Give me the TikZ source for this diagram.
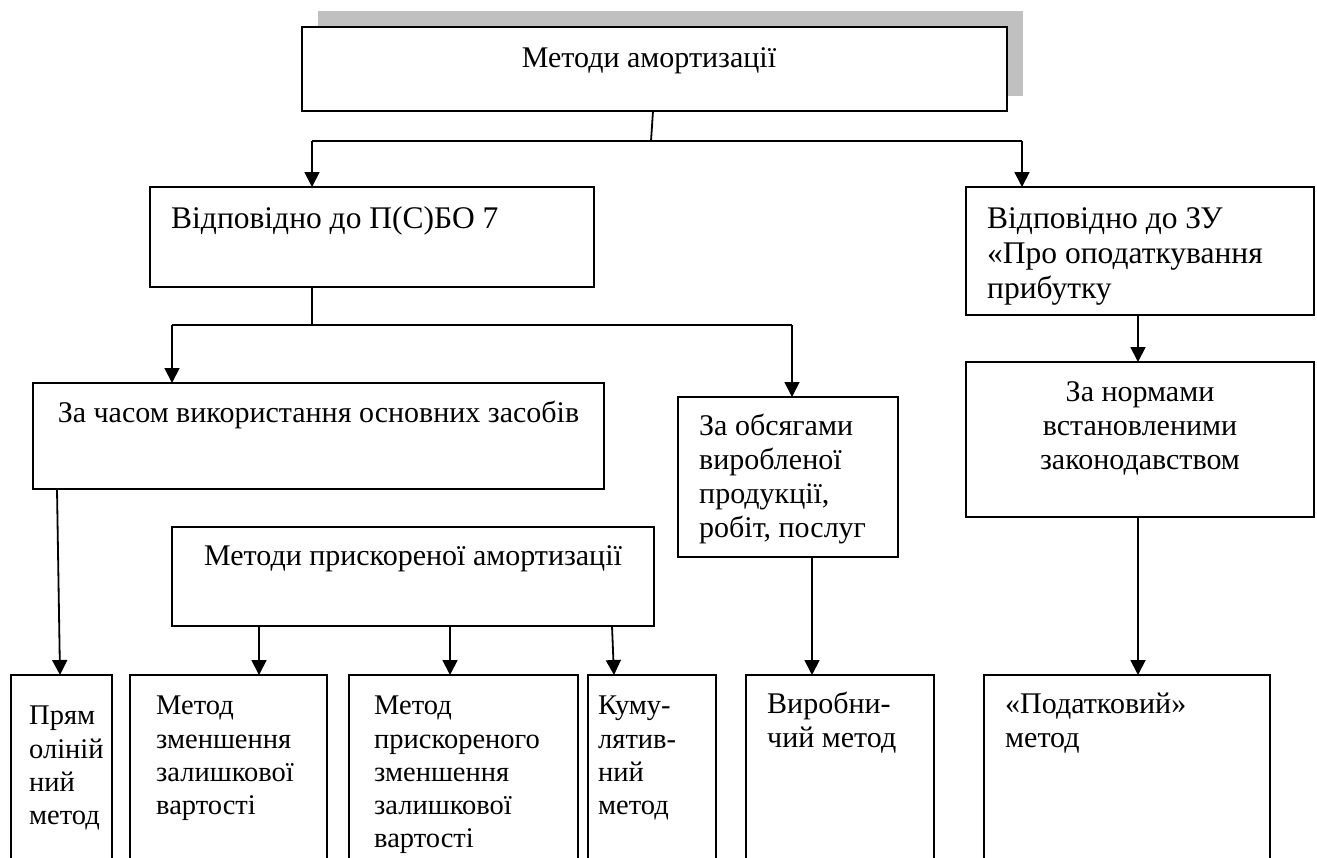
\documentclass[tikz,border=0pt]{standalone}
\usepackage{fontspec}
\setmainfont{Liberation Serif}
\usetikzlibrary{arrows.meta}
\definecolor{shadowgray}{HTML}{C0C0C0}
\newcommand\mybox[5]{\node[box,minimum width={(#4-#2)*1pt},minimum height={(#5-#3)*1pt}] (#1) at (#2,#3) {};}
\newcommand\tlft[5][]{\node[txt,anchor=north west,align=left,#1] (#2) at (#3,#4-23.8) {\strut #5};}
\newcommand\tctr[5][]{\node[txt,anchor=north,align=center,#1] (#2) at (#3,#4-23.8) {\strut #5};}
\begin{document}
\begin{tikzpicture}[x=1pt,y=-1pt,
  box/.style={draw,line width=1.5pt,inner sep=0pt,outer sep=0pt,anchor=north west,fill=white},
  conn/.style={line width=1.8pt},
  arr/.style={conn,-{Triangle[length=15pt,width=15pt]}},
  txt/.style={inner sep=0pt,font=\fontsize{30}{34}\selectfont},
  big/.style={font=\fontsize{31.5}{35}\selectfont},
  small/.style={font=\fontsize{28.5}{33.3}\selectfont}]
\useasboundingbox (0,0) rectangle (1317,857);
\clip (0,0) rectangle (1317,857);
% shadow of the title box
\fill[shadowgray] (318,11) rectangle (1023,96);
% boxes
\mybox{top}{302}{27}{1007}{111}
\mybox{pcbo}{150}{187}{594}{287}
\mybox{zu}{966}{187}{1314}{315}
\mybox{chas}{33}{383}{604}{489}
\mybox{obs}{678}{397}{898}{557}
\mybox{norm}{966}{362}{1314}{517}
\mybox{prysk}{172}{527}{654}{626}
\mybox{b1}{11}{675}{112}{880}
\mybox{b2}{130}{675}{327}{880}
\mybox{b3}{349}{675}{578}{880}
\mybox{b4}{588}{675}{716}{880}
\mybox{b5}{746}{675}{934}{880}
\mybox{b6}{984}{675}{1270}{880}
% texts
\tctr{ttop}{649}{67}{Методи амортизації}
\tlft[big]{tpcbo}{171}{228}{Відповідно до П(С)БО 7}
\tlft[big]{tzu}{987}{228}{Відповідно до ЗУ\\«Про оподаткування\\прибутку}
\tctr{tchas}{318.5}{422}{За часом використання основних засобів}
\tlft{tobs}{699}{435}{За обсягами\\виробленої\\продукції,\\робіт, послуг}
\tctr{tnorm}{1140}{401}{За нормами\\встановленими\\законодавством}
\tctr{tprysk}{413}{565}{Методи прискореної амортизації}
\tlft[small]{tb1}{29}{725}{Прям\\оліній\\ний\\метод}
\tlft[small]{tb2}{156}{715}{Метод\\зменшення\\залишкової\\вартості}
\tlft[small]{tb3}{374}{715}{Метод\\прискореного\\зменшення\\залишкової\\вартості}
\tlft[small]{tb4}{598}{715}{Куму-\\лятив-\\ний\\метод}
\tlft{tb5}{767}{713}{Виробни-\\чий метод}
\tlft{tb6}{1005}{713}{«Податковий»\\метод}
% junction coordinates
\coordinate (j0t) at (653,0);
\coordinate (j0) at (651,141);
\coordinate (jL) at (312,141);
\coordinate (jR) at (1022,141);
\coordinate (k0) at (312,325);
\coordinate (kL) at (172,325);
\coordinate (kR) at (792,325);
\coordinate (c1t) at (57,0);
\coordinate (c1) at (60,0);
\coordinate (c2) at (259,0);
\coordinate (c3) at (450,0);
\coordinate (c4t) at (612,0);
\coordinate (c4) at (614,0);
\coordinate (c5) at (812,0);
\coordinate (c6) at (1138,0);
% connectors
\draw[conn] (top.south -| j0t) -- (j0);
\draw[conn] (jL) -- (jR);
\draw[arr] (jL) -- (jL |- pcbo.north);
\draw[arr] (jR) -- (jR |- zu.north);
\draw[conn] (pcbo.south -| k0) -- (k0);
\draw[conn] (kL) -- (kR);
\draw[arr] (kL) -- (kL |- chas.north);
\draw[arr] (kR) -- (kR |- obs.north);
\draw[arr] (zu.south -| c6) -- (norm.north -| c6);
\draw[arr] (norm.south -| c6) -- (b6.north -| c6);
\draw[arr] (obs.south -| c5) -- (b5.north -| c5);
\draw[arr] (chas.south -| c1t) -- (b1.north -| c1);
\draw[arr] (prysk.south -| c2) -- (b2.north -| c2);
\draw[arr] (prysk.south -| c3) -- (b3.north -| c3);
\draw[arr] (prysk.south -| c4t) -- (b4.north -| c4);
\end{tikzpicture}
\end{document}
